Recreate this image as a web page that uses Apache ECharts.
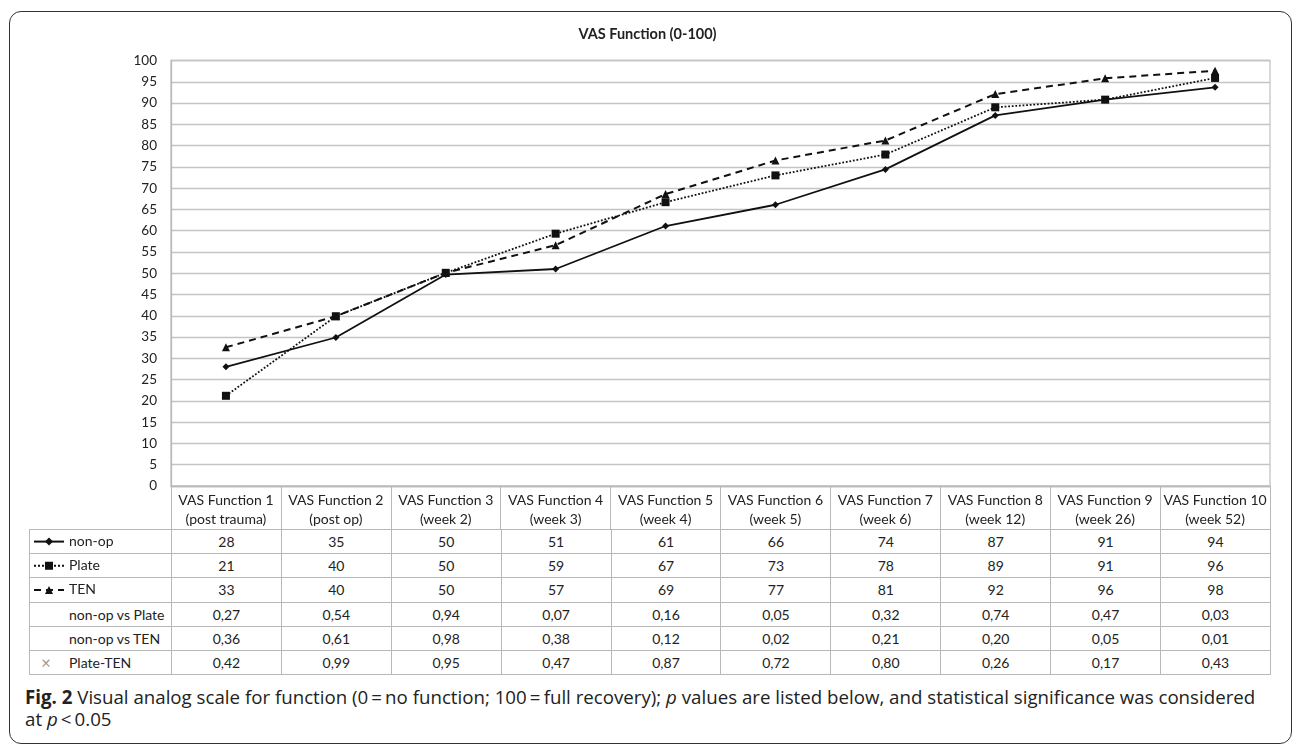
<!DOCTYPE html>
<html>
<head>
<meta charset="utf-8">
<script src="https://cdn.jsdelivr.net/npm/echarts@6/dist/echarts.min.js"></script>
<style>
  body { margin: 0; background: #fff; }
  #frame {
    position: absolute; left: 9px; top: 11px; width: 1281px; height: 731px;
    border: 1.5px solid #333; border-radius: 12px;
  }
  #tbl {
    position: absolute; left: 29px; top: 529px;
    border-collapse: collapse; table-layout: fixed;
    font-family: Lato, sans-serif; font-size: 14px; color: #222;
  }
  #tbl td {
    border: 1px solid #b8b8b8; height: 23.2px; padding: 0;
    text-align: center; white-space: nowrap;
  }
  #tbl td.lab { text-align: left; padding-left: 39px; }
  #caption {
    position: absolute; left: 25px; top: 686px;
    font-family: "Open Sans", sans-serif; font-size: 18.7px; line-height: 22px;
    color: #222; white-space: nowrap;
  }
  #chart { position: absolute; left: 0; top: 0; width: 1295px; height: 746px; }
</style>
</head>
<body>
<div id="frame"></div>
<table id="tbl"></table>
<div id="caption"><b>Fig. 2</b> Visual analog scale for function (0&#8201;=&#8201;no function; 100&#8201;=&#8201;full recovery); <i>p</i> values are listed below, and statistical significance was considered<br>at <i>p</i>&#8201;&lt;&#8201;0.05</div>
<div id="chart"></div>
<script>
  // categories (two-line headers of the data table)
  const categories = [
    'VAS Function 1\n(post trauma)', 'VAS Function 2\n(post op)', 'VAS Function 3\n(week 2)',
    'VAS Function 4\n(week 3)', 'VAS Function 5\n(week 4)', 'VAS Function 6\n(week 5)',
    'VAS Function 7\n(week 6)', 'VAS Function 8\n(week 12)', 'VAS Function 9\n(week 26)',
    'VAS Function 10\n(week 52)'
  ];
  // plotted means
  const nonOp = [28.0, 34.9, 49.7, 51.0, 61.1, 66.1, 74.4, 87.1, 90.8, 93.7];
  const plate = [21.2, 39.9, 50.1, 59.3, 66.7, 73.0, 77.9, 89.0, 90.8, 95.9];
  const ten = [32.6, 39.9, 50.1, 56.6, 68.6, 76.5, 81.2, 92.1, 95.8, 97.6];
  // rounded values shown in the table
  const nonOpRow = [28, 35, 50, 51, 61, 66, 74, 87, 91, 94];
  const plateRow = [21, 40, 50, 59, 67, 73, 78, 89, 91, 96];
  const tenRow = [33, 40, 50, 57, 69, 77, 81, 92, 96, 98];
  // p values
  const pNonOpPlate = ['0,27', '0,54', '0,94', '0,07', '0,16', '0,05', '0,32', '0,74', '0,47', '0,03'];
  const pNonOpTen = ['0,36', '0,61', '0,98', '0,38', '0,12', '0,02', '0,21', '0,20', '0,05', '0,01'];
  const pPlateTen = ['0,42', '0,99', '0,95', '0,47', '0,87', '0,72', '0,80', '0,26', '0,17', '0,43'];
  const yTicks = { min: 0, max: 100, step: 5 };

  const gridLeft = 171, gridRight = 25, gridTop = 60.5, gridBottom = 260;
  const rowH = 24.17;
  const colW = (1295 - gridLeft - gridRight) / categories.length;

  // data table under the x axis
  const tbl = document.getElementById('tbl');
  let html = '<colgroup><col style="width:142px">';
  categories.forEach(() => { html += '<col style="width:' + colW + 'px">'; });
  html += '</colgroup>';
  const rows = [
    ['', nonOpRow], ['', plateRow], ['', tenRow],
    ['non-op vs Plate', pNonOpPlate], ['non-op vs TEN', pNonOpTen],
    ['<span style="color:#999;font-size:17px;position:absolute;left:11px;top:1px">&#215;</span>Plate-TEN', pPlateTen]
  ];
  rows.forEach(r => {
    html += '<tr><td class="lab" style="position:relative">' + r[0] + '</td>';
    r[1].forEach(v => { html += '<td>' + v + '</td>'; });
    html += '</tr>';
  });
  tbl.style.width = (142 + colW * categories.length) + 'px';
  tbl.innerHTML = html;

  const font = 'Lato';
  const chart = echarts.init(document.getElementById('chart'));

  // one legend per series row, so each sits in its table row
  const names = ['non-op', 'Plate', 'TEN'];
  const legends = names.map((n, i) => ({
    data: [n],
    orient: 'vertical',
    left: 33,
    top: 529 + i * rowH + rowH / 2 - 6.5,
    padding: 0,
    itemWidth: 30,
    itemHeight: 10,
    itemGap: 0,
    selectedMode: false,
    textStyle: { fontFamily: font, fontSize: 14, color: '#222' }
  }));

  const option = {
    animation: false,
    title: {
      text: 'VAS Function (0-100)',
      left: 'center',
      top: 22,
      textStyle: { fontFamily: font, fontSize: 14.5, fontWeight: 'bold', color: '#222' }
    },
    legend: legends,
    grid: {
      left: gridLeft, right: gridRight, top: gridTop, bottom: gridBottom,
      show: true, borderColor: '#c4c4c4', borderWidth: 1.3
    },
    xAxis: {
      type: 'category',
      data: categories,
      boundaryGap: true,
      axisLine: { show: true, lineStyle: { color: '#b8b8b8', width: 1.3 } },
      axisTick: { show: true, length: 43, interval: 0, lineStyle: { color: '#b8b8b8', width: 1 } },
      axisLabel: {
        interval: 0, margin: 5, fontFamily: font, fontSize: 14, lineHeight: 19, color: '#222'
      },
      splitLine: { show: false }
    },
    yAxis: {
      type: 'value',
      min: yTicks.min, max: yTicks.max, interval: yTicks.step,
      axisLine: { show: true, lineStyle: { color: '#b8b8b8', width: 1.3 } },
      axisTick: { show: false },
      axisLabel: { margin: 14, fontFamily: font, fontSize: 13.5, color: '#222' },
      splitLine: { lineStyle: { color: '#c4c4c4', width: 1.3 } }
    },
    series: [
      {
        name: 'non-op', type: 'line', data: nonOp,
        symbol: 'diamond', symbolSize: 7,
        itemStyle: { color: '#111' },
        lineStyle: { color: '#111', width: 1.8, type: 'solid' }
      },
      {
        name: 'Plate', type: 'line', data: plate,
        symbol: 'rect', symbolSize: 8,
        itemStyle: { color: '#111' },
        lineStyle: { color: '#111', width: 1.8, type: 'dotted' }
      },
      {
        name: 'TEN', type: 'line', data: ten,
        symbol: 'triangle', symbolSize: 8,
        itemStyle: { color: '#111' },
        lineStyle: { color: '#111', width: 2, type: [7, 5] }
      }
    ]
  };
  chart.setOption(option);
</script>
</body>
</html>
